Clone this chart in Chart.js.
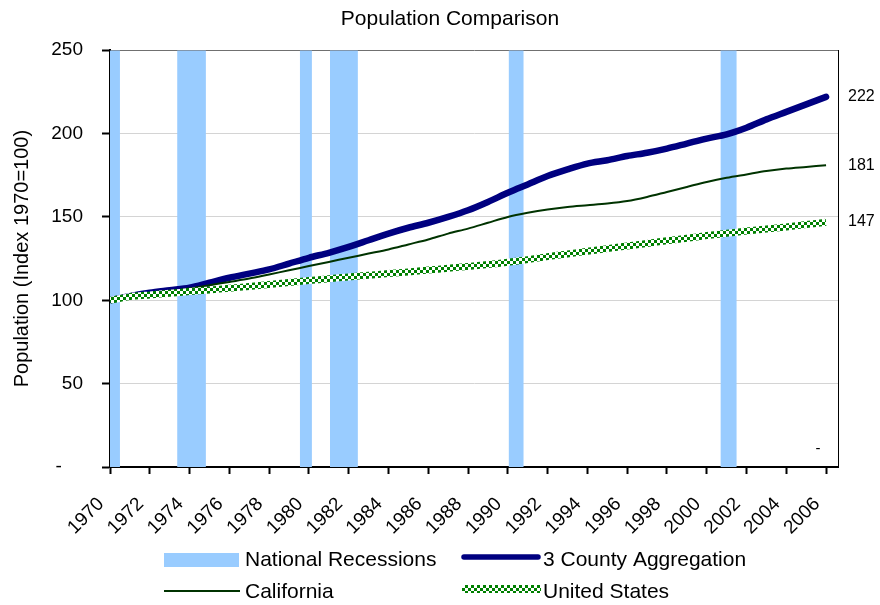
<!DOCTYPE html>
<html><head><meta charset="utf-8">
<script src="https://cdn.jsdelivr.net/npm/chart.js@4.4.1/dist/chart.umd.min.js"></script>
<style>html,body{margin:0;padding:0;background:#fff}#wrap{width:880px;height:605px;position:relative}</style>
</head><body><div id="wrap"><canvas id="c" width="880" height="605"></canvas></div>
<script>
const years = [1970,1971,1972,1973,1974,1975,1976,1977,1978,1979,1980,1981,1982,1983,1984,1985,1986,1987,1988,1989,1990,1991,1992,1993,1994,1995,1996,1997,1998,1999,2000,2001,2002,2003,2004,2005,2006];
const countyAgg = [100,102.5,104.5,106,107.5,110.5,113.5,116,118.5,122,125.5,128.5,132,136,140,143.5,146.5,150,154,159,164.5,169.5,174.5,178.5,182,184,186.5,188.5,191,194,197,199.5,203.5,208.5,213,217.5,222];
const california = [100,102,104,105.5,107,109,111,113,115.5,118,120.5,123,125.5,128,130.5,133.5,136.5,140,143,146.5,150,152.5,154.5,156,157,158,159.5,162,165,168,171,173.5,175.5,177.5,179,180,181];
const unitedStates = [100,102.2,103.2,104.2,105.2,106.2,107.2,108.3,109.5,110.7,111.8,112.9,114,115,116,117,118.1,119.2,120.3,121.4,122.8,124.4,126.2,127.8,129.4,131,132.5,134.1,135.7,137.2,138.8,140.2,141.5,142.7,144,145.4,146.8];
const recessionStart = [1970.0,1973.38,1979.55,1981.06,1990.05,2000.70];
const recessionEnd   = [1970.5,1974.82,1980.15,1982.46,1990.79,2001.51];
const xTickYears = [1970,1972,1974,1976,1978,1980,1982,1984,1986,1988,1990,1992,1994,1996,1998,2000,2002,2004,2006];
const yTickValues = [0,50,100,150,200,250];
const endLabels = [222,181,147];
const seriesNames = ['National Recessions','3 County Aggregation','California','United States'];

const FONT = '"Liberation Sans", Arial, Helvetica, sans-serif';
Chart.defaults.font.family = FONT;
Chart.defaults.color = '#000';

const canvas = document.getElementById('c');
const mainCtx = canvas.getContext('2d');
function checker(){
  const c = document.createElement('canvas'); c.width = 6; c.height = 6;
  const g = c.getContext('2d');
  g.fillStyle = '#ffffff'; g.fillRect(0,0,6,6);
  g.fillStyle = '#008000'; g.fillRect(0,0,3,3); g.fillRect(3,3,3,3);
  return mainCtx.createPattern(c,'repeat');
}
const usPattern = checker();

const yMax = yTickValues[yTickValues.length-1];
const recessionPts = [];
recessionStart.forEach((s,i)=>{
  const e = recessionEnd[i];
  recessionPts.push({x:s,y:0},{x:s,y:yMax},{x:e,y:yMax},{x:e,y:0});
});
const toXY = arr => arr.map((v,i)=>({x:years[i], y:v}));

const legendPlugin = {
  id:'customLegend',
  afterDraw(chart){
    const ctx = chart.ctx;
    ctx.save();
    ctx.font = '21px ' + FONT;
    ctx.textBaseline = 'middle';
    ctx.textAlign = 'left';
    // row 1
    ctx.fillStyle = '#99CCFF'; ctx.fillRect(164,553,75,14);
    ctx.fillStyle = '#000'; ctx.fillText(seriesNames[0], 245, 560);
    ctx.strokeStyle = '#000080'; ctx.lineWidth = 5.5; ctx.lineCap = 'round';
    ctx.beginPath(); ctx.moveTo(464,557); ctx.lineTo(538,557); ctx.stroke();
    ctx.fillText(seriesNames[1], 543, 560);
    // row 2
    ctx.strokeStyle = '#003300'; ctx.lineWidth = 2; ctx.lineCap = 'butt';
    ctx.beginPath(); ctx.moveTo(164,591); ctx.lineTo(240,591); ctx.stroke();
    ctx.fillText(seriesNames[2], 245, 592);
    ctx.fillStyle = usPattern; ctx.fillRect(462,585,79,8);
    ctx.fillStyle = '#000'; ctx.fillText(seriesNames[3], 543, 592);
    // small dash note
    const xs = chart.scales.x, ys = chart.scales.y;
    ctx.font = '15px ' + FONT; ctx.textAlign = 'center';
    ctx.fillText('-', xs.getPixelForValue(2005.6), ys.getPixelForValue(11));
    ctx.restore();
  }
};

new Chart(canvas, {
  type:'line',
  data:{
    datasets:[
      {label:seriesNames[3], data:toXY(unitedStates), borderColor:usPattern, borderWidth:7, pointRadius:0, tension:0.2, fill:false, order:1, borderCapStyle:'butt'},
      {label:seriesNames[2], data:toXY(california), borderColor:'#003300', borderWidth:2, pointRadius:0, tension:0.3, fill:false, order:2},
      {label:seriesNames[1], data:toXY(countyAgg), borderColor:'#000080', borderWidth:6.5, pointRadius:0, tension:0.3, fill:false, order:3, borderCapStyle:'round'},
      {label:seriesNames[0], data:recessionPts, borderWidth:0, borderColor:'rgba(0,0,0,0)', backgroundColor:'#99CCFF', pointRadius:0, tension:0, fill:'origin', order:4}
    ]
  },
  options:{
    responsive:false, animation:false,
    layout:{padding:{left:20,right:0,top:0,bottom:0}},
    plugins:{
      legend:{display:false}, tooltip:{enabled:false},
      title:{display:true, text:'Population Comparison', color:'#000', font:{size:21, weight:'normal'}, padding:{top:7,bottom:18}}
    },
    scales:{
      x:{type:'linear', min:1970, max:2006.6,
         afterBuildTicks:s=>{s.ticks = xTickYears.map(v=>({value:v}));},
         ticks:{autoSkip:false, minRotation:45, maxRotation:45, font:{size:19}, color:'#000', padding:19, labelOffset:-9, callback:v=>String(v)},
         grid:{drawOnChartArea:false, drawTicks:true, tickLength:7, tickColor:'#000', tickWidth:2},
         border:{color:'#000', width:2},
         afterFit:s=>{s.height = 138;}},
      y:{min:0, max:yMax,
         afterBuildTicks:s=>{s.ticks = yTickValues.map(v=>({value:v}));},
         ticks:{font:{size:19}, color:'#000', padding:19, callback:v=> v===0 ? '-    ' : String(v)},
         grid:{color:c=> (c.tick && c.tick.value===yMax) ? '#707070' : ((c.tick && c.tick.value===0) ? 'rgba(0,0,0,0)' : '#D4D4D4'), tickColor:'#000', tickLength:8, tickWidth:2, lineWidth:1},
         border:{color:'#000', width:2},
         title:{display:true, text:'Population (Index 1970=100)', color:'#000', font:{size:20}, padding:{top:-10,bottom:0}},
         afterFit:s=>{s.width = 90;}},
      y2:{position:'right', min:0, max:yMax,
         afterBuildTicks:s=>{s.ticks = endLabels.map(v=>({value:v}));},
         ticks:{font:{size:16}, color:'#000', padding:10, callback:v=>String(v)},
         grid:{drawOnChartArea:false, drawTicks:false},
         border:{color:'#000', width:1},
         afterFit:s=>{s.width = 42;}}
    }
  },
  plugins:[legendPlugin]
});
</script>
</body></html>
